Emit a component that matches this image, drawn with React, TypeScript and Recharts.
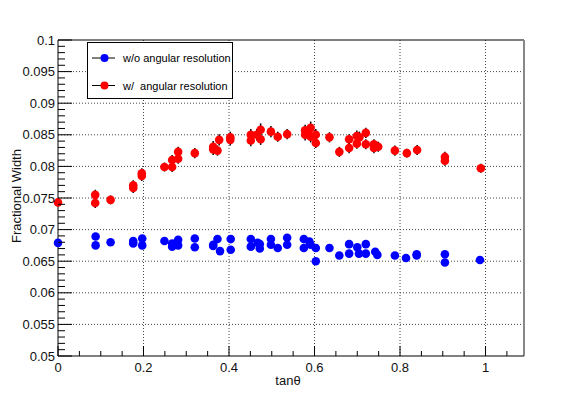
import React from 'react';
import { ScatterChart, Scatter, XAxis, YAxis, ErrorBar, ReferenceLine, Legend } from 'recharts';

// ---- data ----
const redX = [0.0, 0.087, 0.087, 0.123, 0.176, 0.176, 0.196, 0.196, 0.249, 0.267, 0.267, 0.281, 0.281, 0.32,
  0.363, 0.363, 0.373, 0.377, 0.403, 0.403, 0.451, 0.451, 0.465, 0.474, 0.474, 0.498, 0.514, 0.536,
  0.578, 0.578, 0.585, 0.591, 0.591, 0.603, 0.603, 0.635, 0.658, 0.681, 0.681, 0.699, 0.705, 0.699,
  0.72, 0.72, 0.739, 0.739, 0.749, 0.788, 0.816, 0.84, 0.905, 0.905, 0.989];
const redY = [0.0743, 0.0755, 0.0742, 0.0747, 0.077, 0.0766, 0.0789, 0.0785, 0.0799, 0.081, 0.0799, 0.0812, 0.0823, 0.0821,
  0.0831, 0.0827, 0.0825, 0.0842, 0.0846, 0.0842, 0.085, 0.0841, 0.085, 0.0858, 0.0843, 0.0855, 0.0847, 0.0851,
  0.0857, 0.085, 0.0855, 0.0861, 0.0847, 0.085, 0.0837, 0.0846, 0.0823, 0.0843, 0.0829, 0.0848, 0.0846, 0.0836,
  0.0853, 0.0835, 0.0835, 0.0829, 0.0831, 0.0825, 0.0821, 0.0826, 0.0815, 0.0809, 0.0797];
const redErr = [0.0006, 0.0008, 0.0008, 0.0007, 0.0008, 0.0008, 0.0008, 0.0008, 0.0007, 0.0008, 0.0008, 0.0008, 0.0008, 0.0008,
  0.0009, 0.0009, 0.0008, 0.0009, 0.0009, 0.0009, 0.0009, 0.0009, 0.0009, 0.001, 0.0009, 0.0009, 0.0008, 0.0008,
  0.0009, 0.0009, 0.0009, 0.001, 0.0009, 0.0009, 0.0008, 0.0008, 0.0008, 0.0008, 0.0008, 0.0009, 0.0009, 0.0008,
  0.0008, 0.0008, 0.0008, 0.0008, 0.0008, 0.0008, 0.0007, 0.0008, 0.0008, 0.0008, 0.0007];

const blueX = [0.0, 0.088, 0.088, 0.123, 0.176, 0.176, 0.197, 0.197, 0.249, 0.267, 0.267, 0.281, 0.281, 0.32, 0.32,
  0.363, 0.363, 0.373, 0.379, 0.404, 0.404, 0.451, 0.451, 0.467, 0.472, 0.472, 0.498, 0.498, 0.514, 0.536, 0.536,
  0.575, 0.575, 0.588, 0.591, 0.603, 0.603, 0.635, 0.658, 0.681, 0.681, 0.7, 0.704, 0.72, 0.72, 0.742, 0.747,
  0.788, 0.814, 0.839, 0.839, 0.905, 0.905, 0.987];
const blueY = [0.0679, 0.0689, 0.0675, 0.068, 0.0682, 0.0678, 0.0686, 0.0675, 0.0682, 0.0678, 0.0673, 0.0684, 0.0675, 0.0686, 0.0672,
  0.0676, 0.0674, 0.0685, 0.0666, 0.0685, 0.0668, 0.0685, 0.0673, 0.0679, 0.0677, 0.067, 0.0685, 0.0676, 0.0671, 0.0687, 0.0676,
  0.0685, 0.0671, 0.0681, 0.0676, 0.0671, 0.065, 0.0671, 0.0659, 0.0677, 0.0662, 0.0672, 0.0662, 0.0677, 0.0662, 0.0665, 0.066,
  0.0659, 0.0655, 0.0661, 0.0659, 0.0661, 0.0648, 0.0652];

const seriesNames = ['w/o angular resolution', 'w/  angular resolution'];
const seriesColors = ['#0000ff', '#ff0000'];

const xMajorTicks = [0, 0.2, 0.4, 0.6, 0.8, 1];
const xTickLabels = ['0', '0.2', '0.4', '0.6', '0.8', '1'];
const xMinorTicks = [0.05, 0.1, 0.15, 0.25, 0.3, 0.35, 0.45, 0.5, 0.55, 0.65, 0.7, 0.75, 0.85, 0.9, 0.95, 1.05];
const yMajorTicks = [0.05, 0.055, 0.06, 0.065, 0.07, 0.075, 0.08, 0.085, 0.09, 0.095, 0.1];
const yTickLabels = ['0.05', '0.055', '0.06', '0.065', '0.07', '0.075', '0.08', '0.085', '0.09', '0.095', '0.1'];
const yMinorTicks = Array.from({ length: 51 }, (_, i) => (50 + i) / 1000).filter(
  (v) => !yMajorTicks.some((m) => Math.abs(m - v) < 1e-9)
);

const X_MAX = 1.09;
const FONT = "'Liberation Sans', Arial, Helvetica, sans-serif";

const redData = redX.map((x, i) => ({ x, y: redY[i], err: redErr[i] }));
const blueData = blueX.map((x, i) => ({ x, y: blueY[i] }));

const xTicks = [...xMajorTicks, ...xMinorTicks].sort((a, b) => a - b);
const yTicks = [...yMajorTicks, ...yMinorTicks].sort((a, b) => a - b);

const majorIndex = (arr: number[], v: number) => arr.findIndex((m) => Math.abs(m - v) < 1e-9);

const XTick = (props: any) => {
  const { x, y, payload } = props;
  const idx = majorIndex(xMajorTicks, payload.value);
  const major = idx >= 0;
  return (
    <g>
      <line x1={x} x2={x} y1={y} y2={y - (major ? 10 : 5)} stroke="#000" strokeWidth={1} />
      {major && (
        <text x={x} y={y + 11} textAnchor="middle" dominantBaseline="central" fontSize={13} fontFamily={FONT} fill="#111">
          {xTickLabels[idx]}
        </text>
      )}
    </g>
  );
};

const YTick = (props: any) => {
  const { x, y, payload } = props;
  const idx = majorIndex(yMajorTicks, payload.value);
  const major = idx >= 0;
  return (
    <g>
      <line x1={x} x2={x + (major ? 14 : 7)} y1={y} y2={y} stroke="#000" strokeWidth={1} />
      {major && (
        <text x={x - 3} y={y} textAnchor="end" dominantBaseline="central" fontSize={13} fontFamily={FONT} fill="#111">
          {yTickLabels[idx]}
        </text>
      )}
    </g>
  );
};

const Dot = (color: string) => (props: any) => {
  const { cx, cy } = props;
  if (cx == null || cy == null) return <g />;
  return <circle cx={cx} cy={cy} r={4.3} fill={color} stroke="none" />;
};

const renderLegend = () => (
  <svg width={147} height={59} style={{ display: 'block' }}>
    <rect x={0.5} y={0.5} width={145} height={56} fill="#fff" stroke="#000" strokeWidth={1} />
    {seriesNames.map((name, i) => {
      const cy = 16 + i * 27.5;
      return (
        <g key={name}>
          <line x1={5} x2={28} y1={cy} y2={cy} stroke="#000" strokeWidth={1} />
          <circle cx={17.5} cy={cy} r={4} fill={seriesColors[i]} />
          <text x={36} y={cy} dominantBaseline="central" fontSize={11} fontFamily={FONT} fill="#000" style={{ whiteSpace: 'pre' }}>
            {name}
          </text>
        </g>
      );
    })}
  </svg>
);

const YTitle = (props: any) => {
  const vb = props.viewBox || { x: 0, y: 40, width: 58, height: 316 };
  const cx = vb.x + 16;
  const cy = vb.y + vb.height / 2 - 2;
  return (
    <text x={cx} y={cy} transform={`rotate(-90 ${cx} ${cy})`} textAnchor="middle" dominantBaseline="central" fontSize={13} fontFamily={FONT} fill="#111">
      Fractional Width
    </text>
  );
};

const XTitle = (props: any) => {
  const vb = props.viewBox || { x: 58, y: 356, width: 466, height: 41 };
  const cx = vb.x + vb.width / 2 - 3;
  const cy = vb.y + 24;
  return (
    <text x={cx} y={cy} textAnchor="middle" dominantBaseline="central" fontSize={13} fontFamily={FONT} fill="#111">
      tanθ
    </text>
  );
};

export default function App() {
  return (
    <div style={{ position: 'absolute', left: 0, top: 0, width: 581, height: 397, background: '#fff' }}>
      <ScatterChart width={581} height={397} margin={{ top: 40, right: 57, bottom: 0, left: 0 }}>
        {yMajorTicks.slice(1, -1).map((v) => (
          <ReferenceLine key={'gy' + v} y={v} stroke="#444" strokeDasharray="1 2" strokeWidth={1} />
        ))}
        {xMajorTicks.slice(1).map((v) => (
          <ReferenceLine key={'gx' + v} x={v} stroke="#444" strokeDasharray="1 2" strokeWidth={1} />
        ))}
        <ReferenceLine y={0.1} stroke="#000" strokeWidth={1} />
        <ReferenceLine x={X_MAX} stroke="#888" strokeWidth={2} />
        <XAxis
          type="number"
          dataKey="x"
          domain={[0, X_MAX]}
          ticks={xTicks}
          interval={0}
          height={41}
          tickSize={0}
          tickMargin={0}
          tick={<XTick />}
          axisLine={{ stroke: '#000', strokeWidth: 1 }}
          label={<XTitle />}
        />
        <YAxis
          type="number"
          dataKey="y"
          domain={[0.05, 0.1]}
          ticks={yTicks}
          interval={0}
          width={58}
          tickSize={0}
          tickMargin={0}
          tick={<YTick />}
          axisLine={{ stroke: '#000', strokeWidth: 1 }}
          label={<YTitle />}
        />
        <Scatter name={seriesNames[0]} data={blueData} fill={seriesColors[0]} shape={Dot(seriesColors[0])} isAnimationActive={false} />
        <Scatter name={seriesNames[1]} data={redData} fill={seriesColors[1]} shape={Dot(seriesColors[1])} isAnimationActive={false}>
          <ErrorBar dataKey="err" direction="y" width={0} stroke="#000" strokeWidth={1.5} />
        </Scatter>
        <Legend
          layout="horizontal"
          verticalAlign="middle"
          align="center"
          content={renderLegend}
          wrapperStyle={{ left: 87, top: 42, width: 147, height: 59 }}
        />
      </ScatterChart>
    </div>
  );
}
